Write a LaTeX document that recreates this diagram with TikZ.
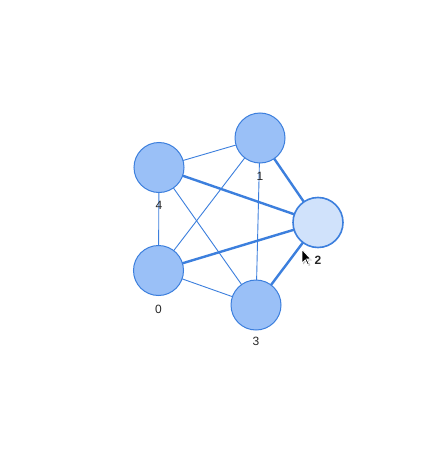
\documentclass[tikz,border=0pt]{standalone}
\usepackage{fontspec}
\setmainfont{Liberation Sans}
\begin{document}
\begin{tikzpicture}[x=1pt,y=-1pt,
  vert/.style={circle,draw=edgeblue,line width=1pt,fill=nodefill,minimum size=50pt,inner sep=0pt},
  selvert/.style={vert,fill=selfill,line width=1.6pt},
  thin edge/.style={draw=edgeblue,line width=0.9pt},
  thick edge/.style={draw=edgeblue,line width=2.4pt},
  lbl/.style={font=\fontsize{12}{14}\selectfont,text=black!85,inner sep=0pt}]
\definecolor{edgeblue}{HTML}{3C7FDD}
\definecolor{nodefill}{HTML}{9AC0F7}
\definecolor{selfill}{HTML}{D0E2FB}
\useasboundingbox (0,0) rectangle (442,452);
\fill[white] (0,0) rectangle (442,452);
\coordinate (c1) at (260,138);
\coordinate (c2) at (318,222.5);
\coordinate (c3) at (256,305);
\coordinate (c4) at (159,167.5);
\coordinate (c0) at (158.5,270.5);
% edges
\draw[thin edge] (c1) -- (c4);
\draw[thin edge] (c1) -- (c0);
\draw[thin edge] (c1) -- (c3);
\draw[thin edge] (c4) -- (c0);
\draw[thin edge] (c4) -- (c3);
\draw[thin edge] (c0) -- (c3);
\draw[thick edge] (c2) -- (c1);
\draw[thick edge] (c2) -- (c4);
\draw[thick edge] (c2) -- (c0);
\draw[thick edge] (c2) -- (c3);
% nodes
\node[vert] (n1) at (c1) {};
\node[selvert] (n2) at (c2) {};
\node[vert] (n3) at (c3) {};
\node[vert] (n4) at (c4) {};
\node[vert] (n0) at (c0) {};
% labels
\node[lbl] (l1) at (260,176) {1};
\node[lbl,font=\fontsize{12}{14}\selectfont\bfseries] (l2) at (318,260.5) {2};
\node[lbl] (l3) at (256,341.5) {3};
\node[lbl] (l4) at (159,205.5) {4};
\node[lbl] (l0) at (158.5,309) {0};
% mouse cursor
\begin{scope}[shift={(302,249.5)},scale=0.8]
\fill[black!25] (1.5,1.5) -- (1.5,18.5) -- (5.5,14.5) -- (8.5,20.5) -- (10.5,19.5) -- (7.5,13.5) -- (12.5,13.5) -- cycle;
\filldraw[fill=black,draw=white,line width=0.8pt,line join=miter] (0,0) -- (0,17) -- (4,13) -- (7,19) -- (9,18) -- (6,12) -- (11,12) -- cycle;
\end{scope}
\end{tikzpicture}
\end{document}
